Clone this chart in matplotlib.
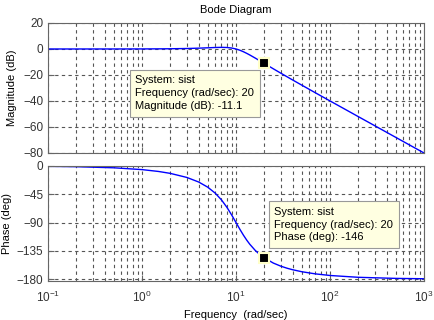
import numpy as np
import matplotlib
matplotlib.use("Agg")
import matplotlib.pyplot as plt

plt.rcParams['font.family'] = ['Liberation Sans', 'DejaVu Sans']
plt.rcParams['mathtext.default'] = 'regular'
plt.rcParams['font.size'] = 8

# values
freq = [0.1, 0.2, 0.5, 1, 1.5, 2, 3, 4, 5, 6, 7, 8, 9, 10, 11, 12, 13, 14,
        16, 18, 20, 25, 30, 35, 40, 50, 70, 100, 200, 500, 1000]
mag_db = [0.00, 0.00, 0.01, 0.04, 0.10, 0.17, 0.37, 0.63, 0.90, 1.14, 1.25,
          1.14, 0.73, 0.00, -0.98, -2.13, -3.36, -4.60, -6.98, -9.17, -11.14,
          -15.29, -18.63, -21.42, -23.82, -27.79, -33.72, -39.96, -52.03,
          -67.96, -80.00]
phase_deg = [-0.57, -1.15, -2.87, -5.77, -8.72, -11.77, -18.24, -25.46,
             -33.69, -43.15, -53.92, -65.77, -78.08, -90.00, -100.81, -110.14,
             -117.95, -124.44, -134.27, -141.22, -146.31, -154.54, -159.44,
             -162.72, -165.07, -168.23, -171.70, -174.23, -177.13, -178.85,
             -179.43]

tip_freq = 20
tip_mag = -11.1
tip_phase = -146

mag_ticks = [20, 0, -20, -40, -60, -80]
phase_ticks = [0, -45, -90, -135, -180]

axcol = '#666666'
txtcol = '#333333'

fig = plt.figure(figsize=(4.34, 3.2), dpi=100)
ax1 = fig.add_axes([0.1106, 0.5219, 0.8664, 0.4063])
ax2 = fig.add_axes([0.1106, 0.1219, 0.8664, 0.3594])


def style(ax):
    ax.set_xscale('log')
    ax.set_xlim(0.1, 1000)
    ax.grid(True, which='both', color='#555555', linestyle=(0, (3, 3)), linewidth=0.8)
    for s in ax.spines.values():
        s.set_color(axcol)
    ax.tick_params(which='both', direction='in', colors=axcol, labelcolor=txtcol,
                   labelsize=8.5)
    ax.tick_params(which='major', length=4)
    ax.tick_params(which='minor', length=2)
    ax.tick_params(axis='x', pad=6)


style(ax1)
style(ax2)

ax1.plot(freq, mag_db, color='#0000ff', lw=1)
ax1.set_ylim(-80, 20)
ax1.set_yticks(mag_ticks)
ax1.tick_params(labelbottom=False)
ax1.set_ylabel('Magnitude (dB)', color='black')
ax1.set_title('Bode Diagram', fontsize=8, pad=7)

ax2.plot(freq, phase_deg, color='#0000ff', lw=1)
ax2.set_ylim(-183, 0)
ax2.set_yticks(phase_ticks)
ax2.set_ylabel('Phase (deg)', color='black', labelpad=3)
ax2.set_xlabel('Frequency  (rad/sec)', color='black', labelpad=4)

tipbox = dict(boxstyle='square,pad=0.5', facecolor='#ffffe1', edgecolor='#999999', lw=0.8)

ax1.plot([tip_freq], [tip_mag], marker='s', ms=6.5, color='black',
         mec='#ffffc8', mew=1.5, zorder=5)
ax1.annotate('System: sist\nFrequency (rad/sec): 20\nMagnitude (dB): -11.1',
             xy=(tip_freq, tip_mag), xytext=(-129, -12), textcoords='offset pixels',
             ha='left', va='top', fontsize=8, linespacing=1.35, bbox=tipbox, zorder=6)

ax2.plot([tip_freq], [tip_phase], marker='s', ms=6.5, color='black',
         mec='#ffffc8', mew=1.5, zorder=5)
ax2.annotate('System: sist\nFrequency (rad/sec): 20\nPhase (deg): -146',
             xy=(tip_freq, tip_phase), xytext=(10, 51), textcoords='offset pixels',
             ha='left', va='top', fontsize=8, linespacing=1.35, bbox=tipbox, zorder=6)

fig.savefig('out.png', dpi=100)
